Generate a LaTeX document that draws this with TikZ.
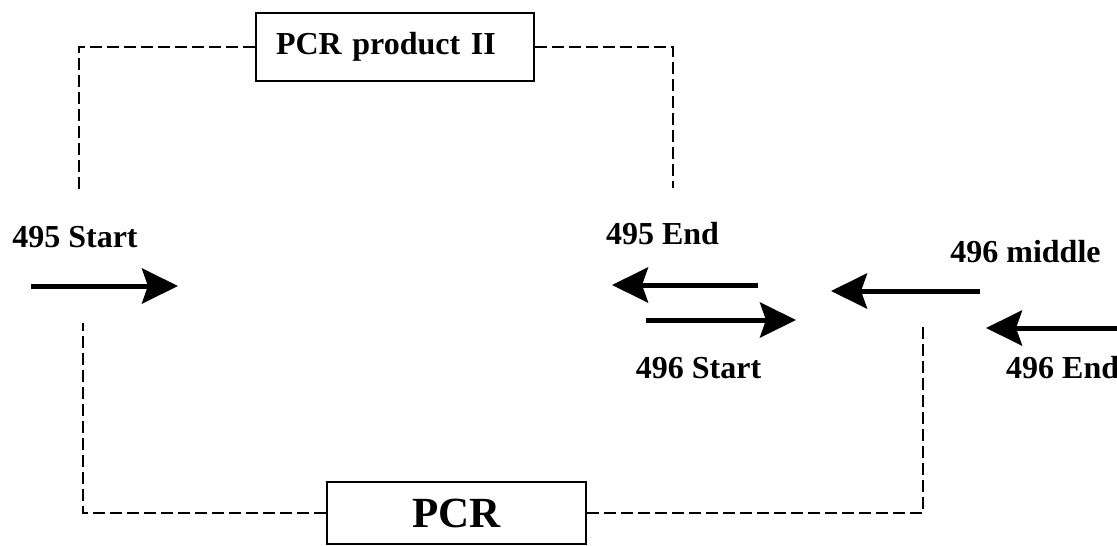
\documentclass[tikz,border=0pt]{standalone}
\usepackage{fontspec}
\setmainfont{Liberation Serif}
\usetikzlibrary{
  arrows.meta, % for the Stealth arrow tip of the primers
  positioning, % for relative placement
}
\tikzset{
  primer/.style={ % style for each primer arrow
    -{Stealth[length=36pt,width=35pt,inset=6pt]}, % big filled arrow tip
    line width=5pt, % thick shaft
  },
  tag/.style={ % style for the primer names
    font=\bfseries\fontsize{32}{38}\selectfont, % bold, large
    inner sep=0pt, % no padding around the text
    anchor=base, % place by the baseline
  },
  box/.style={ % style for the product boxes
    rectangle,draw,line width=1.5pt, % drawn as a rectangle
    font=\bfseries\fontsize{32}{38}\selectfont,
  },
  loopline/.style={ % style for the dashed links
    line width=1.2pt, % thin line
    dash pattern=on 12pt off 5pt, % long dashes
  },
}
\begin{document}
\begin{tikzpicture}[x=1pt,y=-1pt]
	\useasboundingbox (0,0) rectangle (1117,546);

	% boxes
	\node[box,minimum height=68pt,text width=238pt,inner xsep=20pt,align=left] (prod) at (395,47) {PCR product II};
	\node[box,minimum width=259pt,minimum height=62pt,font=\bfseries\fontsize{43}{50}\selectfont] (pcr) at (456.5,513) {PCR};

	% primer names
	\node[tag] (s495) at (75,247) {495 Start};
	\node[tag] (e495) at (662.5,244) {495 End};
	\node[tag] (m496) at (1025.5,262) {496 middle};
	\node[tag] (s496) at (698.5,378) {496 Start};
	\node[tag,anchor=base west] (e496) at (1006,378) {496 End};

	% primer ends
	\coordinate (s495a) at (31,286);
	\coordinate (s495b) at (178,286);
	\coordinate (e495a) at (758,285);
	\coordinate (e495b) at (612,285);
	\coordinate (s496a) at (646,320);
	\coordinate (s496b) at (796,320);
	\coordinate (m496a) at (980,291);
	\coordinate (m496b) at (831,291);
	\coordinate (e496a) at (1120,328);
	\coordinate (e496b) at (986,328);

	\draw[primer] (s495a) -- (s495b);
	\draw[primer] (e495a) -- (e495b);
	\draw[primer] (s496a) -- (s496b);
	\draw[primer] (m496a) -- (m496b);
	\draw[primer] (e496a) -- (e496b);

	% dashed links
	\coordinate (tl) at (79,192);
	\coordinate (tr) at (673,188);
	\coordinate (bl) at (83,323);
	\coordinate (br) at (923,327);
	\draw[loopline] (prod.west) -| (tl);
	\draw[loopline] (prod.east) -| (tr);
	\draw[loopline] (pcr.west) -| (bl);
	\draw[loopline] (pcr.east) -| (br);

\end{tikzpicture}
\end{document}
